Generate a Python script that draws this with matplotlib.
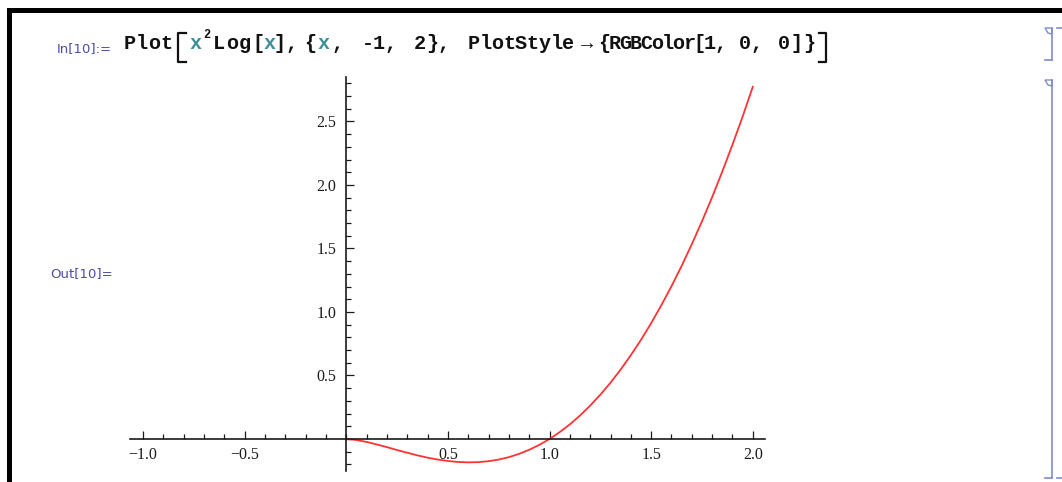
"""
Mathematica-style notebook cell: Plot[x^2 Log[x], {x, -1, 2}] in red.
"""

import matplotlib.pyplot as plt
from matplotlib.ticker import MultipleLocator
from matplotlib.patches import Rectangle, Polygon

# ─── data ─────────────────────────────────────────────────────────────────────
x_vals = [0.00, 0.05, 0.10, 0.15, 0.20, 0.25, 0.30, 0.35, 0.40, 0.45,
          0.50, 0.55, 0.60, 0.65, 0.70, 0.75, 0.80, 0.85, 0.90, 0.95,
          1.00, 1.05, 1.10, 1.15, 1.20, 1.25, 1.30, 1.35, 1.40, 1.45,
          1.50, 1.55, 1.60, 1.65, 1.70, 1.75, 1.80, 1.85, 1.90, 1.95, 2.00]
y_vals = [0.000, -0.008, -0.023, -0.043, -0.064, -0.087, -0.108, -0.129,
          -0.147, -0.162, -0.173, -0.181, -0.184, -0.182, -0.175, -0.162,
          -0.143, -0.117, -0.085, -0.046, 0.000, 0.054, 0.115, 0.185,
          0.263, 0.349, 0.443, 0.547, 0.660, 0.781, 0.912, 1.053, 1.203,
          1.363, 1.534, 1.714, 1.904, 2.106, 2.317, 2.539, 2.773]

x_ticks = [-1.0, -0.5, 0.5, 1.0, 1.5, 2.0]
x_tick_labels = ['\u22121.0', '\u22120.5', '0.5', '1.0', '1.5', '2.0']
y_ticks = [0.5, 1.0, 1.5, 2.0, 2.5]
y_tick_labels = ['0.5', '1.0', '1.5', '2.0', '2.5']

in_label = 'In[10]:='
out_label = 'Out[10]='

BLACK = '#111111'
TEAL = '#3f8f99'
LABEL_BLUE = '#4a4f9e'
BRACKET = '#7f8cca'

W, H = 1062, 482
fig = plt.figure(figsize=(W / 100, H / 100), dpi=100)

# ─── overlay in pixel coordinates for the notebook decorations ────────────────
ov = fig.add_axes([0, 0, 1, 1])
ov.set_xlim(0, W)
ov.set_ylim(H, 0)
ov.axis('off')

# black window frame (top and left)
ov.add_patch(Rectangle((7, 8), W - 7, 5, color='black', lw=0))
ov.add_patch(Rectangle((7, 8), 5, H - 8, color='black', lw=0))

# cell labels
ov.text(57, 52, in_label, color=LABEL_BLUE, fontsize=9.5,
        family=['DejaVu Sans'], va='baseline')
ov.text(50, 277, out_label, color=LABEL_BLUE, fontsize=9.5,
        family=['DejaVu Sans'], va='baseline')

# input line, character by character in a monospaced bold face
mono = ['Liberation Mono', 'DejaVu Sans Mono']
tokens = [
    (124, 172, 'Plot', BLACK),
    (188, 204, 'x', TEAL),
    (213, 251, 'Log', BLACK),
    (253, 264, '[', BLACK),
    (264, 275, 'x', TEAL),
    (275, 285, ']', BLACK),
    (288, 296, ',', BLACK),
    (303, 317, '{', BLACK),
    (317, 331, 'x', TEAL),
    (331, 344, ',', BLACK),
    (362, 396, '-1,', BLACK),
    (414, 450, '2},', BLACK),
    (468, 574, 'PlotStyle', BLACK),
    (579, 595, '\u2192', BLACK),
    (599, 726, '{RGBColor[1,', BLACK),
    (739, 762, '0,', BLACK),
    (778, 815, '0]}', BLACK),
]
for x0, x1, s, c in tokens:
    step = (x1 - x0) / len(s)
    for i, ch in enumerate(s):
        ov.text(x0 + step * (i + 0.5), 49, ch, color=c, fontsize=14.5,
                fontweight='bold', family=mono, ha='center', va='baseline')
ov.text(207, 38, '2', color=BLACK, fontsize=8.5, fontweight='bold',
        family=mono, ha='center', va='baseline')

# tall brackets of Plot[ ... ]
ov.plot([186, 178, 178, 186], [33, 33, 62, 62], color=BLACK, lw=1.6)
ov.plot([819, 826, 826, 819], [33, 33, 62, 62], color=BLACK, lw=1.6)

# cell brackets at the right edge
for top, bottom in [(28, 60), (80, 478)]:
    ov.plot([1052, 1052], [top, bottom], color=BRACKET, lw=1.2)
    ov.plot([1045, 1052], [bottom, bottom], color=BRACKET, lw=1.2)
    ov.add_patch(Polygon([(1045, top), (1052, top), (1052, top + 6),
                          (1048, top + 5)], closed=True, fill=False,
                         edgecolor=BRACKET, lw=1.0))
ov.plot([1057, 1062], [28, 28], color=BRACKET, lw=1.2)
ov.plot([1057, 1062], [478, 478], color=BRACKET, lw=1.2)

# ─── the plot itself ──────────────────────────────────────────────────────────
ax = fig.add_axes([130 / W, 1 - 471 / H, (765 - 130) / W, (471 - 77) / H])
ax.patch.set_alpha(0)
ax.plot(x_vals, y_vals, color='#ff3333', lw=1.3)
ax.set_xlim(-1.064, 2.06)
ax.set_ylim(-0.252, 2.85)

for s in ['top', 'right']:
    ax.spines[s].set_visible(False)
for s in ['left', 'bottom']:
    ax.spines[s].set_position(('data', 0))
    ax.spines[s].set_linewidth(1.2)
    ax.spines[s].set_color('#1a1a1a')

ax.set_xticks(x_ticks, x_tick_labels)
ax.set_yticks(y_ticks, y_tick_labels)
ax.xaxis.set_minor_locator(MultipleLocator(0.1))
ax.yaxis.set_minor_locator(MultipleLocator(0.1))
ax.tick_params(which='both', direction='in', width=0.9, color='#1a1a1a',
               labelsize=11.5, labelcolor='#1a1a1a')
ax.tick_params(which='major', length=6)
ax.tick_params(which='minor', length=3.5)
ax.tick_params(axis='x', pad=6)
ax.tick_params(axis='y', pad=7)
for lab in ax.get_xticklabels() + ax.get_yticklabels():
    lab.set_family(['Liberation Serif', 'DejaVu Serif'])

plt.savefig('out.png', dpi=100)
